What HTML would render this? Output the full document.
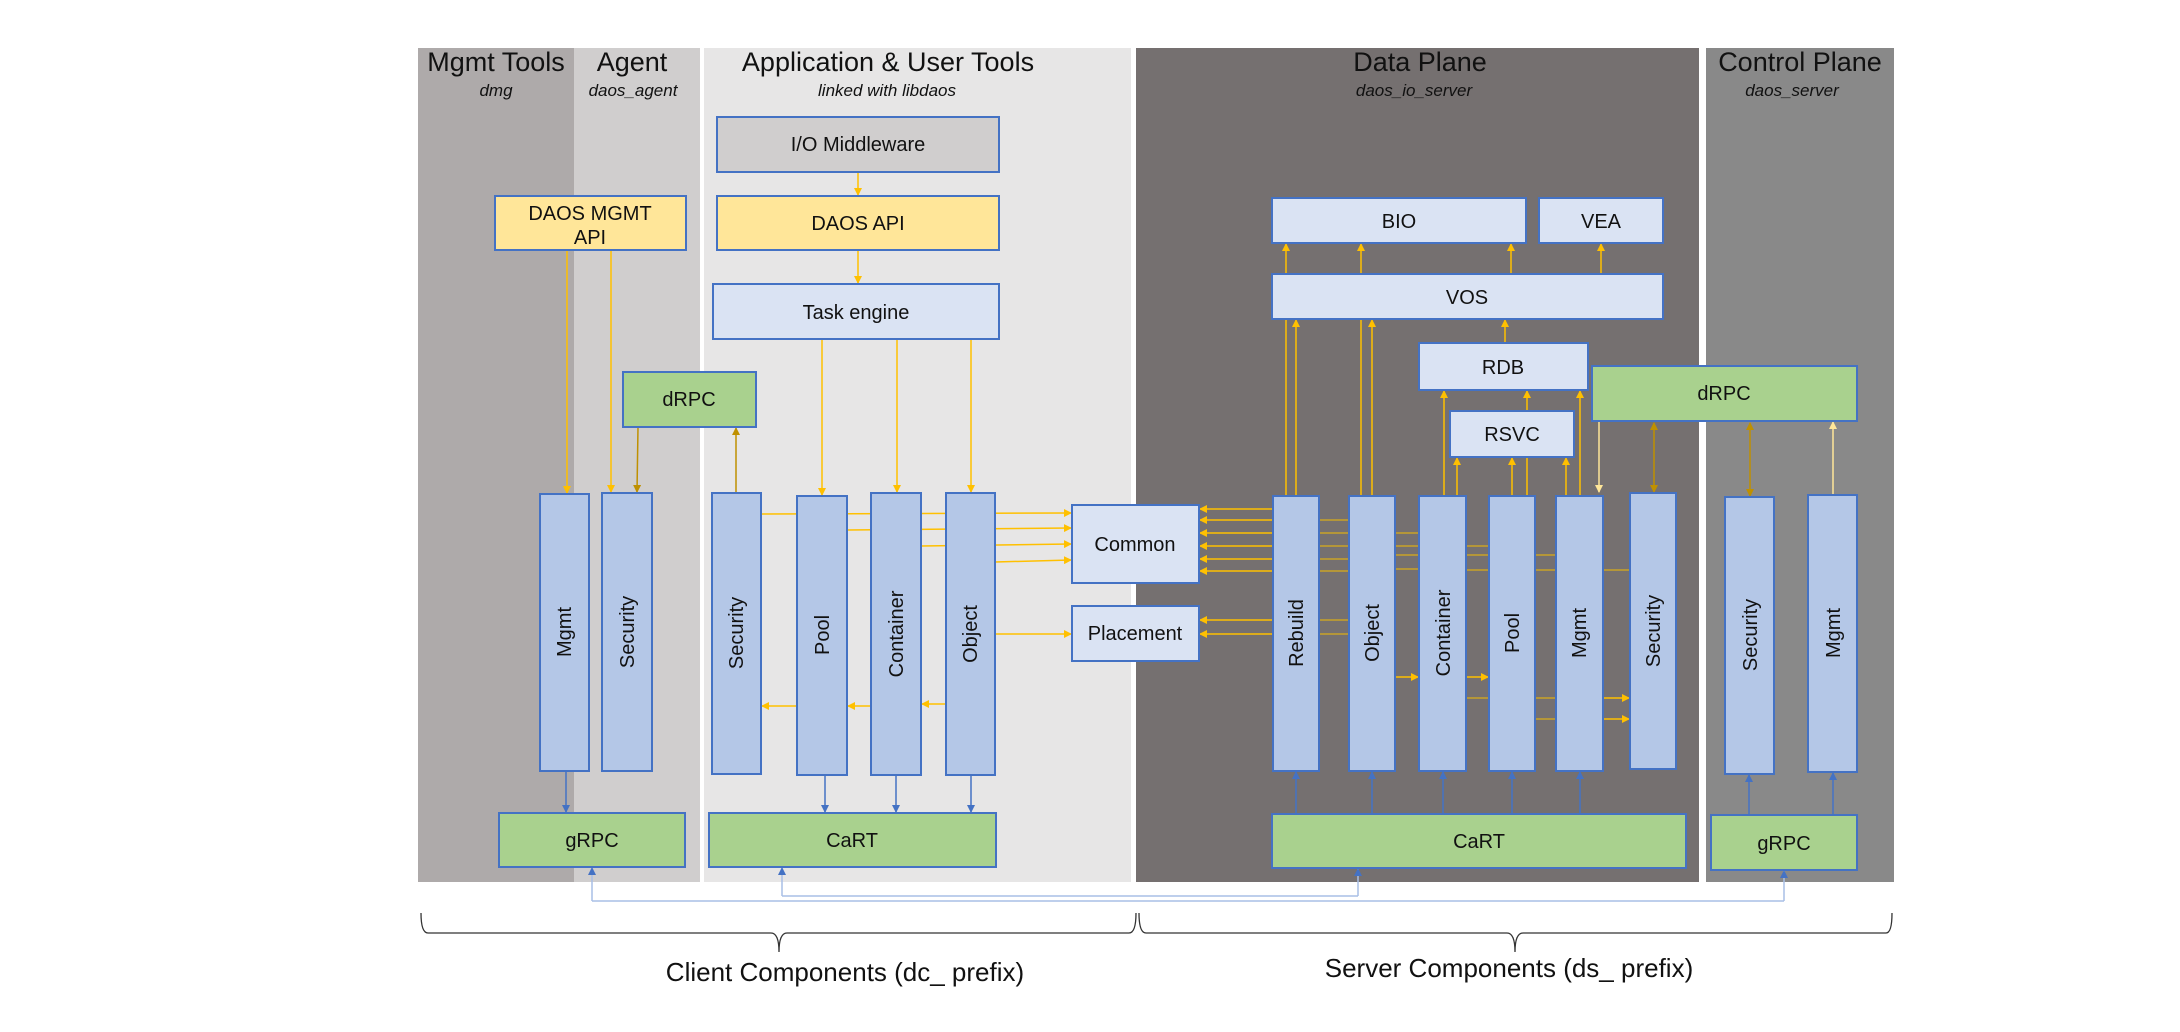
<!DOCTYPE html>
<html><head><meta charset="utf-8"><style>html,body{margin:0;padding:0;background:#fff}svg{display:block}</style></head>
<body>
<svg width="2180" height="1032" viewBox="0 0 2180 1032" xmlns="http://www.w3.org/2000/svg" font-family="Liberation Sans, sans-serif">
<defs>
<marker id="o" markerWidth="8" markerHeight="8" refX="7" refY="4" orient="auto" markerUnits="userSpaceOnUse"><path d="M0,0 L8,4 L0,8 z" fill="#ffc000"/></marker>
<marker id="d" markerWidth="8" markerHeight="8" refX="7" refY="4" orient="auto" markerUnits="userSpaceOnUse"><path d="M0,0 L8,4 L0,8 z" fill="#bf9000"/></marker>
<marker id="ds" markerWidth="8" markerHeight="8" refX="1" refY="4" orient="auto" markerUnits="userSpaceOnUse"><path d="M8,0 L0,4 L8,8 z" fill="#bf9000"/></marker>
<marker id="y" markerWidth="8" markerHeight="8" refX="7" refY="4" orient="auto" markerUnits="userSpaceOnUse"><path d="M0,0 L8,4 L0,8 z" fill="#ffe699"/></marker>
<marker id="b" markerWidth="8" markerHeight="8" refX="7" refY="4" orient="auto" markerUnits="userSpaceOnUse"><path d="M0,0 L8,4 L0,8 z" fill="#4472c4"/></marker>
<marker id="lb" markerWidth="8" markerHeight="8" refX="7" refY="4" orient="auto" markerUnits="userSpaceOnUse"><path d="M0,0 L8,4 L0,8 z" fill="#4472c4"/></marker>
</defs>
<!-- panels -->
<rect x="418" y="48" width="156" height="834" fill="#aeaaaa"/>
<rect x="574" y="48" width="126" height="834" fill="#d0cece"/>
<rect x="704" y="48" width="427" height="834" fill="#e7e6e6"/>
<rect x="1136" y="48" width="563" height="834" fill="#757070"/>
<rect x="1706" y="48" width="188" height="834" fill="#898989"/>
<g font-size="27" fill="#111" text-anchor="middle">
<text x="496" y="71">Mgmt Tools</text><text x="632" y="71">Agent</text>
<text x="888" y="71">Application &amp; User Tools</text>
<text x="1420" y="71">Data Plane</text><text x="1800" y="71">Control Plane</text>
</g>
<g font-size="17" font-style="italic" fill="#111" text-anchor="middle">
<text x="496" y="96">dmg</text><text x="633" y="96">daos_agent</text>
<text x="887" y="96">linked with libdaos</text>
<text x="1414" y="96">daos_io_server</text><text x="1792" y="96">daos_server</text>
</g>
<!-- orange connectors -->
<g stroke="#ffc000" stroke-width="1.5" fill="none">
<line x1="567" y1="250" x2="567" y2="493" marker-end="url(#o)"/>
<line x1="611" y1="250" x2="611" y2="492" marker-end="url(#o)"/>
<line x1="858" y1="172" x2="858" y2="195" marker-end="url(#o)"/>
<line x1="858" y1="250" x2="858" y2="283" marker-end="url(#o)"/>
<line x1="822" y1="339" x2="822" y2="495" marker-end="url(#o)"/>
<line x1="897" y1="339" x2="897" y2="492" marker-end="url(#o)"/>
<line x1="971" y1="339" x2="971" y2="492" marker-end="url(#o)"/>
<line x1="761" y1="514" x2="1071" y2="513" marker-end="url(#o)"/>
<line x1="847" y1="530" x2="1071" y2="528" marker-end="url(#o)"/>
<line x1="921" y1="546" x2="1071" y2="544" marker-end="url(#o)"/>
<line x1="995" y1="562" x2="1071" y2="560" marker-end="url(#o)"/>
<line x1="995" y1="634" x2="1071" y2="634" marker-end="url(#o)"/>
<line x1="797" y1="706" x2="762" y2="706" marker-end="url(#o)"/>
<line x1="871" y1="706" x2="848" y2="706" marker-end="url(#o)"/>
<line x1="946" y1="704" x2="922" y2="704" marker-end="url(#o)"/>
<!-- server -->
<line x1="1286" y1="274" x2="1286" y2="244" marker-end="url(#o)"/>
<line x1="1361" y1="274" x2="1361" y2="244" marker-end="url(#o)"/>
<line x1="1511" y1="274" x2="1511" y2="244" marker-end="url(#o)"/>
<line x1="1601" y1="274" x2="1601" y2="244" marker-end="url(#o)"/>
<line x1="1286" y1="496" x2="1286" y2="319"/>
<line x1="1296" y1="496" x2="1296" y2="320" marker-end="url(#o)"/>
<line x1="1361" y1="496" x2="1361" y2="319"/>
<line x1="1372" y1="496" x2="1372" y2="320" marker-end="url(#o)"/>
<line x1="1505" y1="343" x2="1505" y2="320" marker-end="url(#o)"/>
<line x1="1444" y1="496" x2="1444" y2="391" marker-end="url(#o)"/>
<line x1="1457" y1="496" x2="1457" y2="458" marker-end="url(#o)"/>
<line x1="1512" y1="496" x2="1512" y2="458" marker-end="url(#o)"/>
<line x1="1527" y1="498" x2="1527" y2="457"/>
<line x1="1527" y1="411" x2="1527" y2="391" marker-end="url(#o)"/>
<line x1="1566" y1="496" x2="1566" y2="458" marker-end="url(#o)"/>
<line x1="1580" y1="496" x2="1580" y2="391" marker-end="url(#o)"/>
<line x1="1273" y1="509" x2="1200" y2="509" marker-end="url(#o)"/>
<line x1="1273" y1="520" x2="1200" y2="520" marker-end="url(#o)"/>
<line x1="1273" y1="533" x2="1200" y2="533" marker-end="url(#o)"/>
<line x1="1273" y1="546" x2="1200" y2="546" marker-end="url(#o)"/>
<line x1="1273" y1="559" x2="1200" y2="559" marker-end="url(#o)"/>
<line x1="1273" y1="571" x2="1200" y2="571" marker-end="url(#o)"/>
<line x1="1273" y1="620" x2="1200" y2="620" marker-end="url(#o)"/>
<line x1="1273" y1="634" x2="1200" y2="634" marker-end="url(#o)"/>
<g stroke="#c9a227">
<line x1="1319" y1="520" x2="1349" y2="520"/><line x1="1319" y1="533" x2="1349" y2="533"/>
<line x1="1319" y1="546" x2="1349" y2="546"/><line x1="1319" y1="559" x2="1349" y2="559"/>
<line x1="1319" y1="571" x2="1349" y2="571"/><line x1="1319" y1="620" x2="1349" y2="620"/>
<line x1="1319" y1="634" x2="1349" y2="634"/>
<line x1="1395" y1="533" x2="1419" y2="533"/><line x1="1395" y1="546" x2="1419" y2="546"/>
<line x1="1395" y1="555" x2="1419" y2="555"/><line x1="1395" y1="569" x2="1419" y2="569"/>
<line x1="1466" y1="546" x2="1489" y2="546"/><line x1="1466" y1="555" x2="1489" y2="555"/>
<line x1="1466" y1="570" x2="1489" y2="570"/>
<line x1="1535" y1="555" x2="1556" y2="555"/><line x1="1535" y1="570" x2="1556" y2="570"/>
<line x1="1603" y1="570" x2="1630" y2="570"/>
<line x1="1466" y1="698" x2="1489" y2="698"/><line x1="1535" y1="698" x2="1556" y2="698"/>
<line x1="1535" y1="719" x2="1556" y2="719"/>
</g>
<line x1="1395" y1="677" x2="1418" y2="677" marker-end="url(#o)"/>
<line x1="1466" y1="677" x2="1488" y2="677" marker-end="url(#o)"/>
<line x1="1603" y1="698" x2="1629" y2="698" marker-end="url(#o)"/>
<line x1="1603" y1="719" x2="1629" y2="719" marker-end="url(#o)"/>
</g>
<g stroke="#bf9000" stroke-width="1.5" fill="none">
<line x1="638" y1="427" x2="637" y2="492" marker-end="url(#d)"/>
<line x1="736" y1="493" x2="736" y2="428" marker-end="url(#d)"/>
<line x1="1654" y1="423" x2="1654" y2="492" marker-start="url(#ds)" marker-end="url(#d)"/>
<line x1="1750" y1="423" x2="1750" y2="496" marker-start="url(#ds)" marker-end="url(#d)"/>
</g>
<g stroke="#ffe699" stroke-width="1.5" fill="none">
<line x1="1599" y1="421" x2="1599" y2="492" marker-end="url(#y)"/>
<line x1="1833" y1="495" x2="1833" y2="422" marker-end="url(#y)"/>
</g>
<!-- blue connectors -->
<g stroke="#4472c4" stroke-width="1.5" fill="none">
<line x1="566" y1="771" x2="566" y2="812" marker-end="url(#b)"/>
<line x1="825" y1="775" x2="825" y2="812" marker-end="url(#b)"/>
<line x1="896" y1="775" x2="896" y2="812" marker-end="url(#b)"/>
<line x1="971" y1="775" x2="971" y2="812" marker-end="url(#b)"/>
<line x1="1296" y1="814" x2="1296" y2="772" marker-end="url(#b)"/>
<line x1="1372" y1="814" x2="1372" y2="772" marker-end="url(#b)"/>
<line x1="1443" y1="814" x2="1443" y2="772" marker-end="url(#b)"/>
<line x1="1512" y1="814" x2="1512" y2="772" marker-end="url(#b)"/>
<line x1="1580" y1="814" x2="1580" y2="772" marker-end="url(#b)"/>
<line x1="1749" y1="815" x2="1749" y2="775" marker-end="url(#b)"/>
<line x1="1833" y1="815" x2="1833" y2="773" marker-end="url(#b)"/>
</g>
<g stroke="#a9bfe6" stroke-width="1.5" fill="none">
<polyline points="592,901 1784,901"/><line x1="592" y1="901" x2="592" y2="868" stroke="#a9bfe6" marker-end="url(#lb)"/>
<line x1="1784" y1="901" x2="1784" y2="871" marker-end="url(#lb)"/>
<polyline points="782,896 1358,896"/><line x1="782" y1="896" x2="782" y2="868" marker-end="url(#lb)"/>
<line x1="1358" y1="896" x2="1358" y2="869" marker-end="url(#lb)"/>
</g>
<!-- boxes -->
<g stroke="#4472c4" stroke-width="2">
<rect x="717" y="117" width="282" height="55" fill="#d0cece"/>
<rect x="717" y="196" width="282" height="54" fill="#ffe699"/>
<rect x="495" y="196" width="191" height="54" fill="#ffe699"/>
<rect x="713" y="284" width="286" height="55" fill="#dae3f3"/>
<rect x="623" y="372" width="133" height="55" fill="#a9d18e"/>
<rect x="1072" y="505" width="127" height="78" fill="#dae3f3"/>
<rect x="1072" y="606" width="127" height="55" fill="#dae3f3"/>
<rect x="499" y="813" width="186" height="54" fill="#a9d18e"/>
<rect x="709" y="813" width="287" height="54" fill="#a9d18e"/>
<rect x="1272" y="198" width="254" height="45" fill="#dae3f3"/>
<rect x="1539" y="198" width="124" height="45" fill="#dae3f3"/>
<rect x="1272" y="274" width="391" height="45" fill="#dae3f3"/>
<rect x="1419" y="343" width="169" height="47" fill="#dae3f3"/>
<rect x="1592" y="366" width="265" height="55" fill="#a9d18e"/>
<rect x="1450" y="411" width="124" height="46" fill="#dae3f3"/>
<rect x="1272" y="814" width="414" height="54" fill="#a9d18e"/>
<rect x="1711" y="815" width="146" height="55" fill="#a9d18e"/>
<g fill="#b4c7e7">
<rect x="540" y="494" width="49" height="277"/><rect x="602" y="493" width="50" height="278"/>
<rect x="712" y="493" width="49" height="281"/><rect x="797" y="496" width="50" height="279"/>
<rect x="871" y="493" width="50" height="282"/><rect x="946" y="493" width="49" height="282"/>
<rect x="1273" y="496" width="46" height="275"/><rect x="1349" y="496" width="46" height="275"/>
<rect x="1419" y="496" width="47" height="275"/><rect x="1489" y="496" width="46" height="275"/>
<rect x="1556" y="496" width="47" height="275"/><rect x="1630" y="493" width="46" height="276"/>
<rect x="1725" y="497" width="49" height="277"/><rect x="1808" y="495" width="49" height="277"/>
</g>
</g>
<g font-size="20" fill="#111" text-anchor="middle">
<text x="858" y="151">I/O Middleware</text>
<text x="858" y="230">DAOS API</text>
<text x="590" y="220">DAOS MGMT</text><text x="590" y="244">API</text>
<text x="856" y="319">Task engine</text>
<text x="689" y="406">dRPC</text>
<text x="1135" y="551">Common</text>
<text x="1135" y="640">Placement</text>
<text x="592" y="847">gRPC</text>
<text x="852" y="847">CaRT</text>
<text x="1399" y="228">BIO</text><text x="1601" y="228">VEA</text>
<text x="1467" y="304">VOS</text><text x="1503" y="374">RDB</text>
<text x="1724" y="400">dRPC</text><text x="1512" y="441">RSVC</text>
<text x="1479" y="848">CaRT</text><text x="1784" y="850">gRPC</text>
</g>
<g font-size="20" fill="#111" text-anchor="middle">
<text transform="translate(571,632) rotate(-90)">Mgmt</text>
<text transform="translate(634,632) rotate(-90)">Security</text>
<text transform="translate(743,633) rotate(-90)">Security</text>
<text transform="translate(829,635) rotate(-90)">Pool</text>
<text transform="translate(903,634) rotate(-90)">Container</text>
<text transform="translate(977,634) rotate(-90)">Object</text>
<text transform="translate(1303,633) rotate(-90)">Rebuild</text>
<text transform="translate(1379,633) rotate(-90)">Object</text>
<text transform="translate(1450,633) rotate(-90)">Container</text>
<text transform="translate(1519,633) rotate(-90)">Pool</text>
<text transform="translate(1586,633) rotate(-90)">Mgmt</text>
<text transform="translate(1660,631) rotate(-90)">Security</text>
<text transform="translate(1757,635) rotate(-90)">Security</text>
<text transform="translate(1840,633) rotate(-90)">Mgmt</text>
</g>
<!-- braces -->
<g stroke="#333" stroke-width="1.3" fill="none">
<path d="M421,913 Q421,933 428,933 L771,933 Q779,933 779,952 Q779,933 787,933 L1129,933 Q1136,933 1136,913"/>
<path d="M1139,913 Q1139,933 1146,933 L1507,933 Q1515,933 1515,952 Q1515,933 1523,933 L1886,933 Q1892,933 1892,913"/>
</g>
<g font-size="26" fill="#111" text-anchor="middle">
<text x="845" y="981">Client Components (dc_ prefix)</text>
<text x="1509" y="977">Server Components (ds_ prefix)</text>
</g>
</svg>
</body></html>
